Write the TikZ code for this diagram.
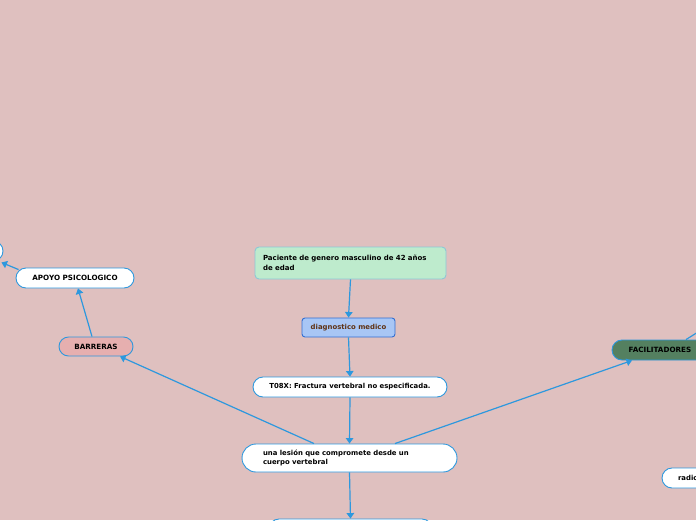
\documentclass[tikz,border=0pt]{standalone}
\usepackage{fontspec}
\setmainfont{DejaVu Sans}
\usetikzlibrary{arrows.meta}
\definecolor{bg}{RGB}{223,192,191}
\definecolor{lineblue}{RGB}{45,152,222}
\definecolor{pacfill}{RGB}{190,235,205}
\definecolor{pacdraw}{RGB}{140,200,215}
\definecolor{diagfill}{RGB}{168,198,245}
\definecolor{diagdraw}{RGB}{50,110,210}
\definecolor{diagtext}{RGB}{95,50,20}
\definecolor{barrfill}{RGB}{230,175,175}
\definecolor{facfill}{RGB}{84,128,96}
\tikzset{
  base/.style={draw=lineblue, line width=0.9pt, inner sep=0pt,
    font=\fontsize{6.9}{8}\selectfont\bfseries, text=black},
  caps/.style={font=\fontsize{7.2}{8}\selectfont\bfseries},
  pill/.style={base, fill=white},
  conn/.style={draw=lineblue, line width=1.2pt, -{Triangle[length=5.5pt,width=7.5pt]}},
  plain/.style={draw=lineblue, line width=1.2pt},
}
\begin{document}
\begin{tikzpicture}[x=1pt,y=-1pt]
\fill[bg] (0,0) rectangle (696,520);
\useasboundingbox (0,0) rectangle (696,520);
\clip (0,0) rectangle (696,520);

\node[base, fill=pacfill, draw=pacdraw, rounded corners=4pt, minimum width=191pt, minimum height=32pt,
  text width=175pt, align=left, font=\fontsize{7}{10.5}\selectfont\bfseries] (pac) at (350.5,263)
  {Paciente de genero masculino de 42 años\\de edad};
\node[base, fill=diagfill, draw=diagdraw, rounded corners=3pt, minimum width=93pt, minimum height=19pt,
  text=diagtext] (diag) at (348.5,327.5) {diagnostico medico};
\node[pill, rounded corners=10pt, minimum width=194pt, minimum height=20pt] (t08) at (350,387)
  {T08X: Fractura vertebral no especificada.};
\node[pill, rounded corners=14pt, minimum width=215pt, minimum height=28pt, text width=173pt,
  align=left, font=\fontsize{6.9}{8.5}\selectfont\bfseries] (les) at (349.5,458)
  {una lesión que compromete desde un\\cuerpo vertebral};
\node[pill, rounded corners=10pt, minimum width=163pt, minimum height=32pt] (bot) at (350.5,535) {};
\node[base, caps, fill=barrfill, rounded corners=9.5pt, minimum width=74pt, minimum height=19pt] (barr) at (96,346.5) {BARRERAS};
\node[pill, caps, rounded corners=10pt, minimum width=118pt, minimum height=20pt] (apoyo) at (75,278) {APOYO PSICOLOGICO};
\node[pill, rounded corners=10pt, minimum width=106pt, minimum height=20pt] (left) at (-50,251) {};
\node[base, caps, fill=facfill, rounded corners=10pt, minimum width=96pt, minimum height=20pt] (fac) at (660,350) {FACILITADORES};
\node[pill, rounded corners=10pt, minimum width=92pt, minimum height=20pt, text width=60pt,
  align=left] (rad) at (708,478) {radiol};
\coordinate (out) at (730,312);

\draw[conn] (pac.south) -- (diag.north);
\draw[conn] (diag.south) -- (t08.north);
\draw[conn] (t08.south) -- (les.north);
\draw[conn] ([xshift=-35.5pt]les.north) -- ([xshift=24pt]barr.south);
\draw[conn] ([xshift=45.5pt]les.north) -- ([xshift=-28pt]fac.south);
\draw[conn] ([xshift=-4pt]barr.north) -- ([xshift=3pt]apoyo.south);
\draw[conn] ([xshift=3pt,yshift=-2pt]apoyo.north west) -- ([xshift=-2pt,yshift=-1pt]left.south east);
\draw[conn] (les.south) -- (bot.north);
\draw[plain] ([xshift=26pt]fac.north) -- (out);
\end{tikzpicture}
\end{document}
